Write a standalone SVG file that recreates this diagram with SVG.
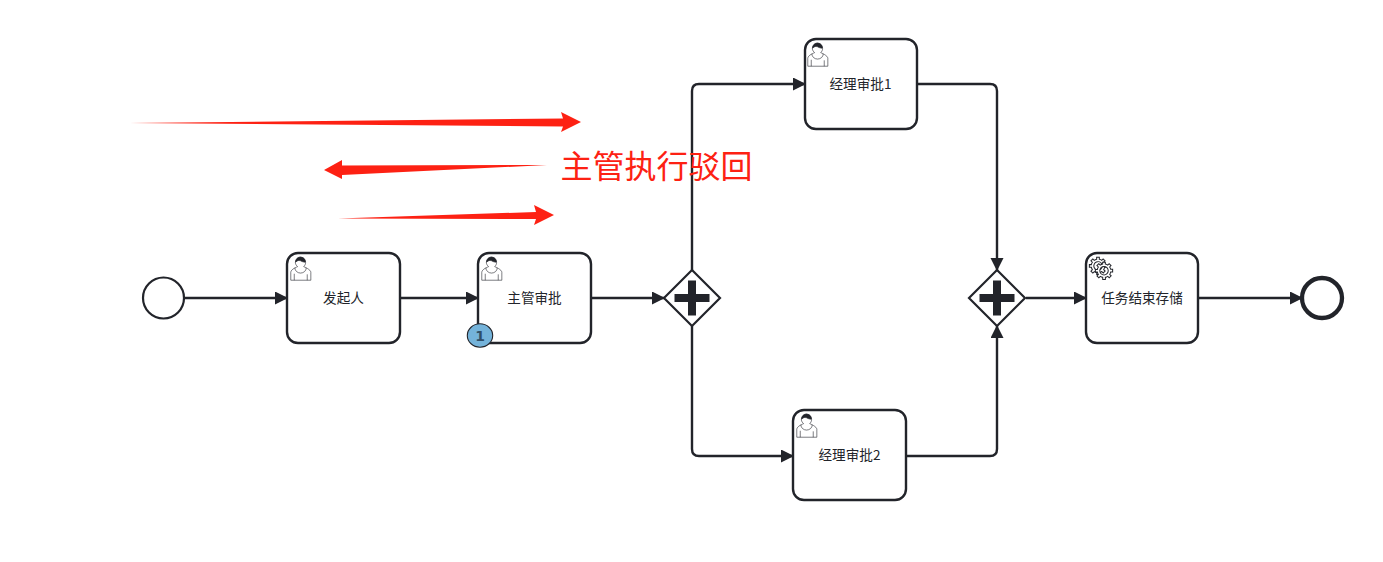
<svg xmlns="http://www.w3.org/2000/svg" width="1383" height="562" viewBox="0 0 1383 562">
<style>
.task{fill:#fff;stroke:#22242a;stroke-width:2.400}
.line{fill:none;stroke:#22242a;stroke-width:2.400;stroke-linejoin:round}
.lbl{font-family:"Noto Sans CJK SC","Liberation Sans",sans-serif;font-size:13.600px;fill:#22242a;text-anchor:middle;dominant-baseline:central}
.icon path{fill:#fff;stroke:#22242a;stroke-width:.5}
.gw{fill:#fff;stroke:#22242a;stroke-width:2.200}
.plus{fill:#22242a}
.gearp{fill:#fff;stroke:#22242a;stroke-width:.85}
.red{fill:#fd2113}
</style>
<defs>
<marker id="arrow" markerUnits="userSpaceOnUse" markerWidth="14" markerHeight="14" refX="13" refY="6.500" orient="auto"><path d="M0,0L13,6.500L0,13z" fill="#22242a"/></marker>
<g id="user" class="icon">
<path d="m15,12c.909-.845 1.594-2.049 1.594-3.385 0-2.554-1.805-4.622-4.357-4.622-2.552,0-4.288,2.068-4.288,4.622 0,1.348.974,2.562 1.896,3.405-.529.187-5.669,2.097-5.794,4.756v6.718h17v-6.718c0-2.298-5.528-4.595-6.051-4.776z"/>
<path d="M7,18v5.500M18,23.500v-5"/>
<path d="m17.162,13.009c0,2.447-2.158,4.431-4.821,4.431-2.665,0-4.822-1.981-4.822-4.431" style="fill:none"/>
<path d="m8.100,8.200c0,0 2.251-2.358 4.274-1.177 2.024,1.181 4.221,1.537 4.124.965-.098-.57-.117-3.791-4.191-4.136-3.575.001-4.208,3.367-4.207,4.348z" style="fill:#22242a"/>
</g>
<path id="gearp" class="gearp" d="m12,18v-1.713c.352-.07.704-.178 1.048-.321.344-.145.666-.321.966-.521l1.194,1.180 1.567-1.577-1.195-1.180c.403-.614.683-1.299.825-2.018l1.622-.01v-2.220l-1.637.01c-.073-.352-.178-.7-.324-1.044-.145-.344-.321-.664-.523-.962l1.131-1.136-1.583-1.563-1.130,1.136c-.614-.401-1.303-.681-2.023-.822l.009-1.619h-2.241l.004,1.631c-.354.074-.705.18-1.050.324-.344.144-.665.321-.964.52l-1.170-1.158-1.567,1.579 1.168,1.157c-.403.613-.683,1.298-.825,2.017l-1.659.003v2.222l1.672-.006c.073.351.18.702.324,1.045.145.344.321.664.523.961l-1.199,1.197 1.584,1.560 1.196-1.193c.614.403 1.303.682 2.023.823l.001,1.699h2.227zm.221-3.996c-1.789.75-3.858-.093-4.610-1.874-.752-1.783.091-3.846 1.880-4.596 1.788-.749 3.857.093 4.609,1.874.752,1.782-.091,3.846-1.880,4.596z"/>
</defs>
<g id="connectors">
<path class="line" marker-end="url(#arrow)" d="M184,298H288"/>
<path class="line" marker-end="url(#arrow)" d="M400,298H479"/>
<path class="line" marker-end="url(#arrow)" d="M591,298H665"/>
<path class="line" marker-end="url(#arrow)" d="M692,270V91Q692,84 699,84H806"/>
<path class="line" marker-end="url(#arrow)" d="M692,326V449Q692,456 699,456H794"/>
<path class="line" marker-end="url(#arrow)" d="M917,84H990Q997,84 997,91V271"/>
<path class="line" marker-end="url(#arrow)" d="M906,456H990Q997,456 997,449V325"/>
<path class="line" marker-end="url(#arrow)" d="M1026,298H1087"/>
<path class="line" marker-end="url(#arrow)" d="M1198,298H1303"/>
</g>
<g id="start"><circle cx="163.500" cy="298" r="20.500" fill="#fff" stroke="#22242a" stroke-width="2.200"/></g>
<g id="task1"><rect class="task" x="287" y="253" width="113" height="90" rx="11"/><use href="#user" transform="translate(286,252.500) scale(1.180)"/><text class="lbl" x="343.500" y="297">发起人</text></g>
<g id="task2"><rect class="task" x="478" y="253" width="113" height="90" rx="11"/><use href="#user" transform="translate(477,252.500) scale(1.180)"/><text class="lbl" x="534.500" y="297">主管审批</text></g>
<g id="badge"><ellipse cx="480" cy="335.500" rx="12.700" ry="11.700" fill="#74b3da" stroke="#22242a" stroke-width="1.100"/><text x="480" y="335.500" font-family="'DejaVu Sans','Liberation Sans',sans-serif" font-size="14" font-weight="700" fill="#2f4f68" text-anchor="middle" dominant-baseline="central">1</text></g>
<g id="gateway1"><path class="gw" d="M692,270L720,298L692,326L664,298z"/><path class="plus" d="M688,280.500h8v13.500h13.500v8h-13.500v13.500h-8v-13.500h-13.500v-8h13.500z"/></g>
<g id="gateway2"><path class="gw" d="M997,270L1025,298L997,326L969,298z"/><path class="plus" d="M993,280.500h8v13.500h13.500v8h-13.500v13.500h-8v-13.500h-13.500v-8h13.500z"/></g>
<g id="task3"><rect class="task" x="805" y="39" width="112" height="90" rx="11"/><use href="#user" transform="translate(803,38.500) scale(1.180)"/><text class="lbl" x="860.500" y="83">经理审批1</text></g>
<g id="task4"><rect class="task" x="793" y="410" width="113" height="90" rx="11"/><use href="#user" transform="translate(792,409.500) scale(1.180)"/><text class="lbl" x="849.500" y="454">经理审批2</text></g>
<g id="task5"><rect class="task" x="1086" y="253" width="112" height="90" rx="11"/><g transform="translate(1085,253) scale(1.200)"><use href="#gearp"/><use href="#gearp" x="5" y="4"/></g><text class="lbl" x="1142" y="297">任务结束存储</text></g>
<g id="end"><circle cx="1322" cy="298" r="20" fill="#fff" stroke="#22242a" stroke-width="4.300"/></g>
<g id="annotation">
<path class="red" d="M130,123L563,118.500L561,112L581,122L561,132L563,126.500z"/>
<path class="red" d="M547,165L342,165.500L342,160L324,170L342,179L342,175z"/>
<path class="red" d="M338,218.500L536,212L534,205L554,215L534,225L536,219z"/>
<text x="560.500" y="178" font-family="'Noto Sans CJK SC',sans-serif" font-size="32" fill="#fd2113">主管执行驳回</text>
</g>
</svg>
